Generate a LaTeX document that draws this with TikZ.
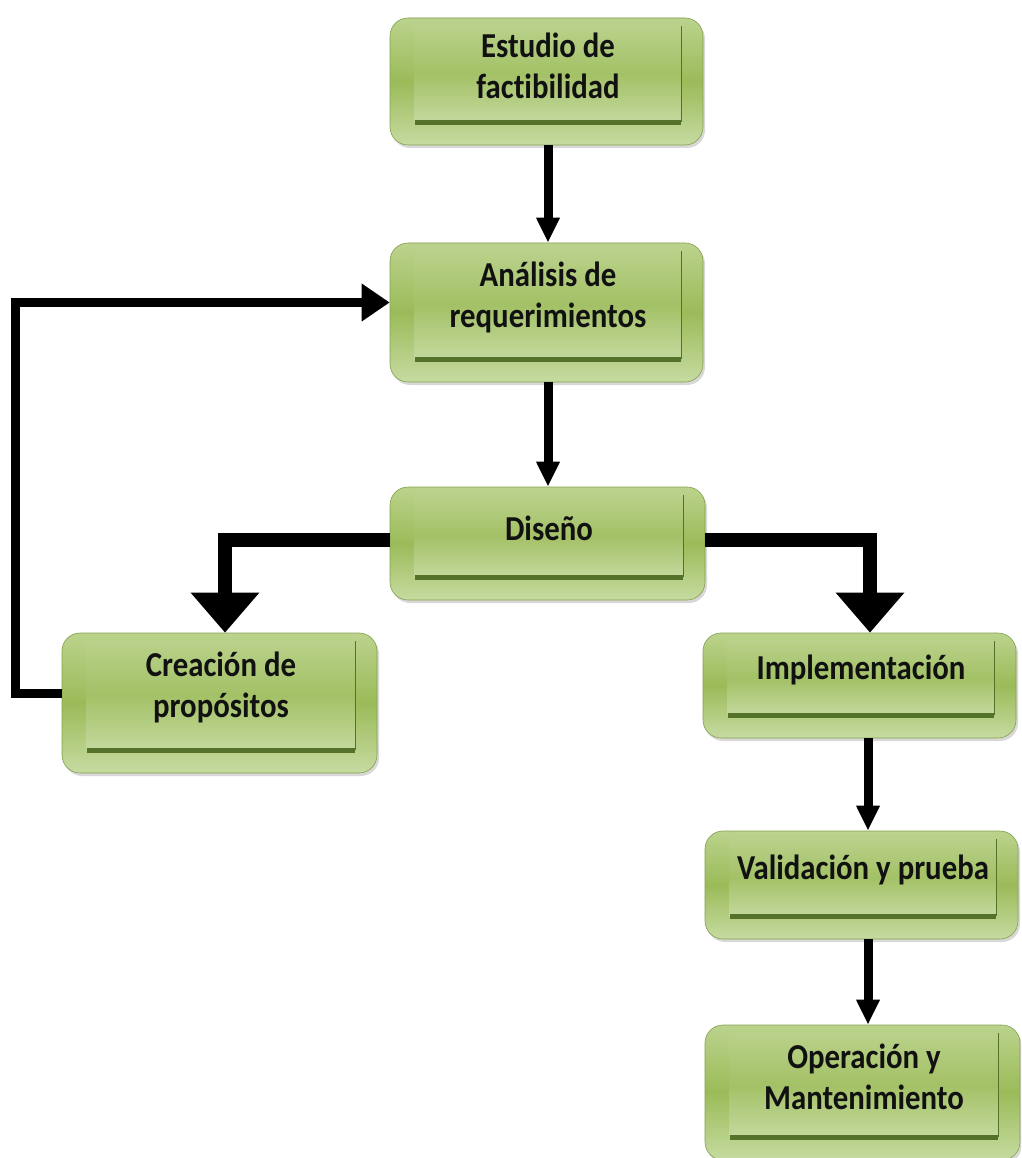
\documentclass[tikz,border=0pt]{standalone}
\usepackage{fontspec}
\newfontfamily\boxfont{Carlito}[FakeStretch=0.88, RawFeature={-liga}]
\usetikzlibrary{arrows.meta,calc,shadows}
\definecolor{gTop}{HTML}{BBD38D}
\definecolor{gMid}{HTML}{9BBB59}
\definecolor{gBot}{HTML}{C6DBA1}
\definecolor{iTop}{HTML}{B9D18A}
\definecolor{iMid}{HTML}{A3C166}
\definecolor{iBot}{HTML}{C4D99E}
\definecolor{gLine}{HTML}{55722A}
\definecolor{txt}{HTML}{111111}
\tikzset{
  stagebox/.style={shape=rectangle, rounded corners=18pt, top color=gTop, bottom color=gBot, middle color=gMid,
    draw=gMid!85!black, line width=0.6pt, inner sep=0pt,
    drop shadow={shadow xshift=2pt, shadow yshift=-3pt, opacity=0.3}},
  innerpanel/.style={top color=iTop, bottom color=iBot, middle color=iMid},
  innerbottom/.style={draw=gLine, line width=5pt},
  innerright/.style={draw=gLine, line width=1.5pt},
  stagetext/.style={font=\boxfont\bfseries\fontsize{35}{41}\selectfont, text=txt, align=center, inner sep=0pt},
  thinarrow/.style={draw=black, line width=9pt, -{Triangle[width=22pt,length=25pt]}},
  looparrow/.style={draw=black, line width=9pt, -{Triangle[width=36pt,length=28pt]}},
  bigarrow/.style={draw=black, line width=14pt, -{Triangle[width=66pt,length=40pt]}},
}
% name, cx, cy, w, h, text
\newcommand\stagenode[6]{%
  \node[stagebox, minimum width=#4pt, minimum height=#5pt] (#1) at (#2,#3) {};
  \coordinate (#1nw) at ([xshift=25pt,yshift=-8pt]#1.north west);
  \coordinate (#1se) at ([xshift=-22pt,yshift=23pt]#1.south east);
  \path[innerpanel] (#1nw) rectangle (#1se);
  \draw[innerbottom] (#1nw |- #1se) -- (#1se);
  \draw[innerright] (#1se) -- (#1se |- #1nw);
  \node[stagetext] (#1t) at ([yshift=8pt]$(#1nw)!0.5!(#1se)$) {#6};
}
\begin{document}
\begin{tikzpicture}[x=1pt,y=-1pt]
\useasboundingbox[fill=white] (0,0) rectangle (1021,1158);
\begin{scope}
\clip (0,0) rectangle (1021,1158);
\stagenode{e}{546.5}{81.5}{313}{127}{Estudio de\\factibilidad}
\stagenode{a}{546.5}{312.5}{313}{139}{Análisis de\\requerimientos}
\stagenode{d}{547.5}{543.5}{315}{113}{Diseño}
\stagenode{c}{219.5}{703}{315}{140}{Creación de\\propósitos}
\stagenode{i}{859.5}{685.5}{313}{105}{Implementación}
\stagenode{v}{861.5}{885}{313}{108}{Validación y prueba}
\stagenode{o}{862.5}{1092.5}{315}{135}{Operación y\\Mantenimiento}

\draw[thinarrow] ([xshift=1.5pt]e.south) -- ([xshift=1.5pt]a.north);
\draw[thinarrow] ([xshift=1.5pt]a.south) -- ([xshift=0.5pt]d.north);
\draw[thinarrow] ([xshift=8.5pt]i.south) -- ([xshift=6.5pt]v.north);
\draw[thinarrow] ([xshift=6.5pt]v.south) -- ([xshift=5.5pt]o.north);

\coordinate (loopcorner) at (15,693);
\draw[looparrow] ([yshift=10pt]c.west) -- (loopcorner) |- ([yshift=10pt]a.west);

\draw[bigarrow] ([yshift=4pt]d.west) -| ([xshift=5.5pt]c.north);
\draw[bigarrow] ([yshift=4pt]d.east) -| ([xshift=10.5pt]i.north);
\end{scope}
\end{tikzpicture}
\end{document}
